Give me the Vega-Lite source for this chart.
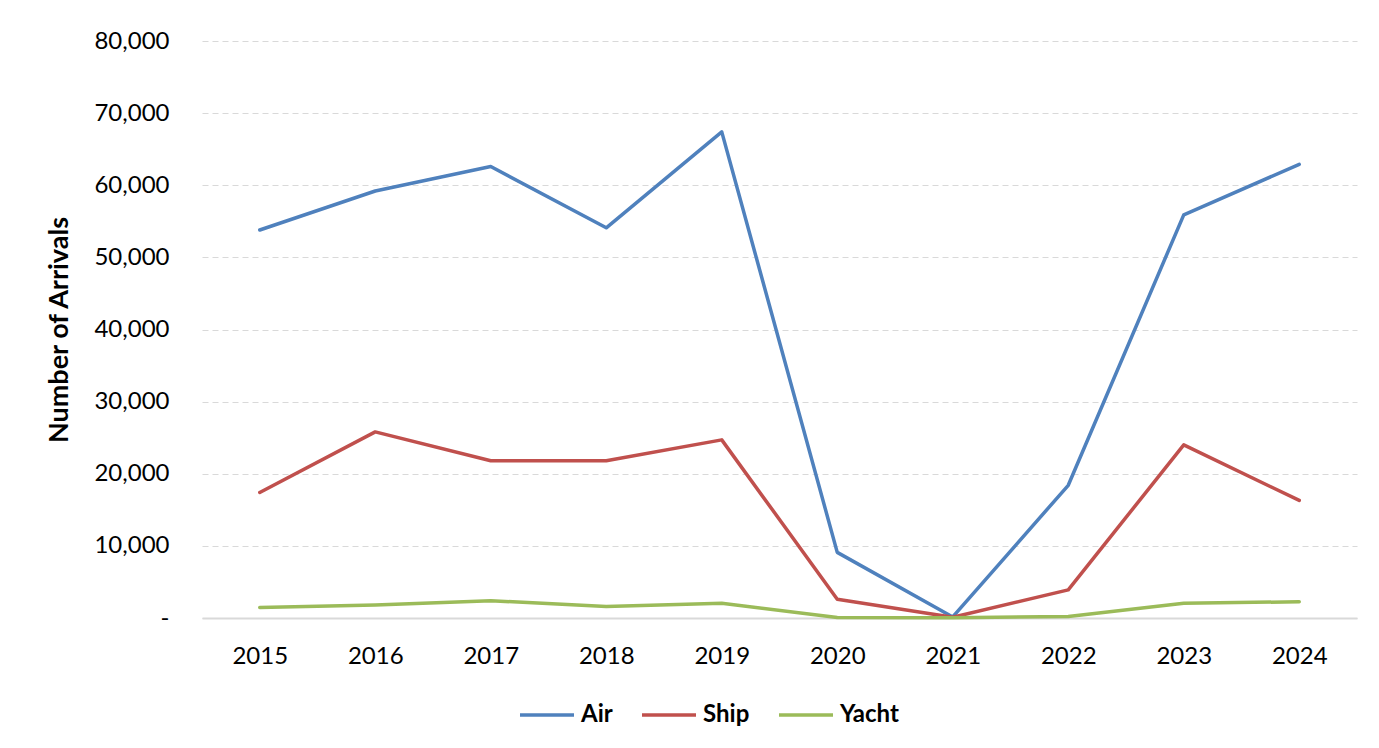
{
  "$schema": "https://vega.github.io/schema/vega-lite/v6.json",
  "width": 1155,
  "height": 577,
  "autosize": {"type": "none"},
  "padding": {"left": 202, "top": 41, "right": 22, "bottom": 130},
  "background": "white",
  "config": {
    "font": "Lato",
    "view": {"stroke": null}
  },
  "data": {
    "values": [
      {"year": "2015", "mode": "Air", "arrivals": 53800},
      {"year": "2016", "mode": "Air", "arrivals": 59200},
      {"year": "2017", "mode": "Air", "arrivals": 62600},
      {"year": "2018", "mode": "Air", "arrivals": 54100},
      {"year": "2019", "mode": "Air", "arrivals": 67400},
      {"year": "2020", "mode": "Air", "arrivals": 9100},
      {"year": "2021", "mode": "Air", "arrivals": 150},
      {"year": "2022", "mode": "Air", "arrivals": 18400},
      {"year": "2023", "mode": "Air", "arrivals": 55900},
      {"year": "2024", "mode": "Air", "arrivals": 62900},
      {"year": "2015", "mode": "Ship", "arrivals": 17400},
      {"year": "2016", "mode": "Ship", "arrivals": 25800},
      {"year": "2017", "mode": "Ship", "arrivals": 21800},
      {"year": "2018", "mode": "Ship", "arrivals": 21800},
      {"year": "2019", "mode": "Ship", "arrivals": 24700},
      {"year": "2020", "mode": "Ship", "arrivals": 2600},
      {"year": "2021", "mode": "Ship", "arrivals": 100},
      {"year": "2022", "mode": "Ship", "arrivals": 3900},
      {"year": "2023", "mode": "Ship", "arrivals": 24000},
      {"year": "2024", "mode": "Ship", "arrivals": 16300},
      {"year": "2015", "mode": "Yacht", "arrivals": 1450},
      {"year": "2016", "mode": "Yacht", "arrivals": 1800},
      {"year": "2017", "mode": "Yacht", "arrivals": 2400},
      {"year": "2018", "mode": "Yacht", "arrivals": 1600},
      {"year": "2019", "mode": "Yacht", "arrivals": 2050},
      {"year": "2020", "mode": "Yacht", "arrivals": 80},
      {"year": "2021", "mode": "Yacht", "arrivals": 50},
      {"year": "2022", "mode": "Yacht", "arrivals": 200},
      {"year": "2023", "mode": "Yacht", "arrivals": 2050},
      {"year": "2024", "mode": "Yacht", "arrivals": 2250}
    ]
  },
  "mark": {"type": "line", "strokeWidth": 3.5, "strokeJoin": "round", "strokeCap": "round"},
  "encoding": {
    "x": {
      "field": "year",
      "type": "ordinal",
      "scale": {"type": "point", "padding": 0.5},
      "axis": {
        "title": null,
        "labelAngle": 0,
        "labelFontSize": 24,
        "labelColor": "#000000",
        "labelPadding": 26,
        "ticks": false,
        "domainColor": "#d9d9d9",
        "domainWidth": 2,
        "grid": false
      }
    },
    "y": {
      "field": "arrivals",
      "type": "quantitative",
      "scale": {"domain": [0, 80000], "nice": false},
      "axis": {
        "title": "Number of Arrivals",
        "titleFontSize": 27,
        "titleFontWeight": "bold",
        "titleColor": "#000000",
        "titlePadding": 20,
        "values": [0, 10000, 20000, 30000, 40000, 50000, 60000, 70000, 80000],
        "labelExpr": "datum.value == 0 ? '-' : format(datum.value, ',')",
        "labelFontSize": 24,
        "labelColor": "#000000",
        "labelPadding": 33,
        "ticks": false,
        "domain": false,
        "grid": true,
        "gridColor": "#d9d9d9",
        "gridDash": [6, 4],
        "gridWidth": 1
      }
    },
    "color": {
      "field": "mode",
      "type": "nominal",
      "scale": {"domain": ["Air", "Ship", "Yacht"], "range": ["#4f81bd", "#c0504d", "#9bbb59"]},
      "legend": {
        "title": null,
        "orient": "none",
        "legendX": 316,
        "legendY": 645,
        "direction": "horizontal",
        "symbolType": "stroke",
        "symbolSize": 2916,
        "symbolStrokeWidth": 3.5,
        "labelFontSize": 24,
        "labelFontWeight": "bold",
        "labelColor": "#000000",
        "columnPadding": 22,
        "labelOffset": 5
      }
    }
  }
}
